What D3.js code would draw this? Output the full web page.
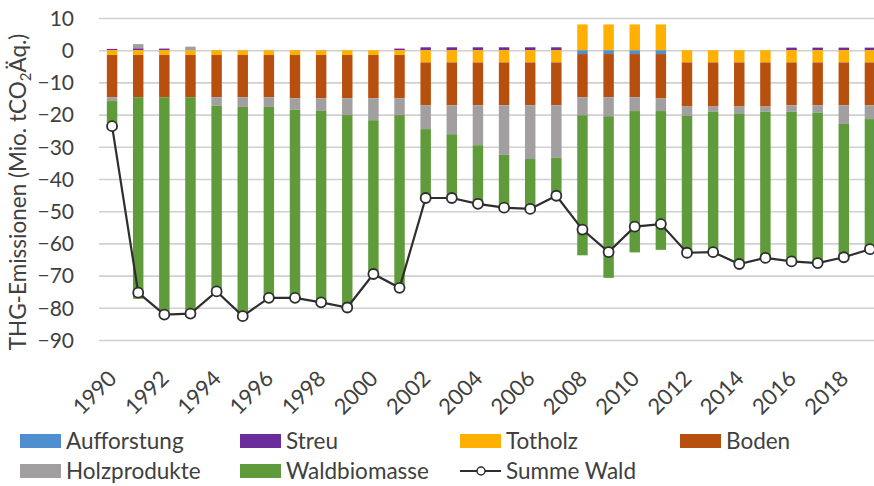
<!DOCTYPE html>
<html>
<head>
<meta charset="utf-8">
<script src="https://cdn.jsdelivr.net/npm/d3@7"></script>
<style>
  html, body { margin: 0; padding: 0; background: #fff; }
  svg { display: block; font-family: Lato, "Open Sans", sans-serif; }
</style>
</head>
<body>
<svg id="chart" width="874" height="486"></svg>
<script>
const years = d3.range(1990, 2020);
const yTicks = [10, 0, -10, -20, -30, -40, -50, -60, -70, -80, -90];
const xTickLabels = years.filter(y => y % 2 === 0);

const aufforstung = [0,0,0,0,0,0,0,0,0,0,0,0,0,0,0,0,0,0,-1.2,-1.2,-1.2,-1.2,0,0,0,0,0,0,0,0];
const streu = [0.4,0.6,0.5,0,0,0,0,0,0,0,0,0.5,0.9,0.9,0.9,0.9,0.9,0.9,0,0,0,0,0,0,0,0,0.8,0.8,0.8,0.8];
const totholz = [-1.5,-1.5,-1.5,-1.5,-1.5,-1.5,-1.5,-1.5,-1.5,-1.5,-1.5,-1.5,-3.8,-3.8,-3.8,-3.8,-3.8,-3.8,8.0,8.0,8.0,8.0,-3.8,-3.8,-3.8,-3.8,-3.8,-3.8,-3.8,-3.8];
const boden = [-13.1,-13.1,-13.1,-13.1,-13.1,-13.1,-13.1,-13.45,-13.45,-13.45,-13.45,-13.45,-13.3,-13.3,-13.3,-13.3,-13.3,-13.3,-13.4,-13.4,-13.4,-13.8,-13.7,-13.7,-13.7,-13.7,-13.3,-13.3,-13.3,-13.3];
const holzprodukte = [-1.2,1.3,0,1.1,-2.6,-3.0,-3.0,-3.5,-3.9,-5.2,-6.8,-5.2,-7.4,-9.0,-12.4,-15.4,-16.7,-16.3,-5.6,-5.9,-4.3,-3.9,-2.9,-1.6,-2.3,-1.6,-2.0,-2.3,-5.8,-4.3];
const waldbiomasse = [-8.2,-62.6,-68.0,-68.3,-57.7,-65.0,-59.3,-58.4,-59.4,-59.7,-47.7,-54.1,-22.3,-20.7,-19.1,-17.3,-16.4,-12.7,-43.5,-50.2,-43.9,-43.1,-42.5,-43.6,-46.6,-45.4,-47.3,-47.5,-42.2,-41.2];
const summeWald = [-23.6,-75.3,-82.1,-81.8,-74.9,-82.6,-76.9,-76.9,-78.3,-79.9,-69.5,-73.8,-45.9,-45.9,-47.7,-48.9,-49.3,-45.2,-55.7,-62.7,-54.8,-54.0,-62.9,-62.7,-66.4,-64.5,-65.6,-66.1,-64.3,-61.8];

const seriesNames = ["Aufforstung", "Streu", "Totholz", "Boden", "Holzprodukte", "Waldbiomasse"];
const seriesValues = [aufforstung, streu, totholz, boden, holzprodukte, waldbiomasse];
const colors = ["#4f8fd0", "#6a2d9b", "#ffb000", "#b7500f", "#a19fa0", "#5f9b3b"];

const rows = years.map((yr, i) => {
  const r = { year: yr };
  seriesNames.forEach((n, k) => r[n] = seriesValues[k][i]);
  return r;
});

const svg = d3.select("#chart");
const textColor = "#404040";
const fontSize = 21;
const legendFontSize = 22.5;

const x = d3.scaleBand().domain(years).range([99, 883]).paddingInner(0.6).paddingOuter(0.3);
const y = d3.scaleLinear().domain([-90, 10]).range([340, 18]);

// gridlines
svg.append("g")
  .attr("transform", "translate(99,0)")
  .call(d3.axisLeft(y).tickValues(yTicks).tickSize(-(874 - 99)).tickFormat(""))
  .call(g => g.select(".domain").remove())
  .call(g => g.selectAll("line").attr("stroke", "#d0d0d0").attr("stroke-width", 1.6));

// y tick labels
svg.append("g")
  .attr("transform", "translate(74,0)")
  .call(d3.axisLeft(y).tickValues(yTicks).tickSize(0).tickPadding(0).tickFormat(d3.format("d")))
  .call(g => g.select(".domain").remove())
  .call(g => g.selectAll("text")
    .attr("fill", textColor).attr("font-size", fontSize).attr("font-family", "Lato, sans-serif")
    .attr("dy", "0.35em"));

// stacked bars
const stack = d3.stack().keys(seriesNames).offset(d3.stackOffsetDiverging).order(d3.stackOrderNone);
const stacked = stack(rows);

svg.append("g").selectAll("g")
  .data(stacked)
  .join("g")
  .attr("fill", (d, i) => colors[i])
  .selectAll("rect")
  .data(d => d)
  .join("rect")
  .attr("x", d => x(d.data.year))
  .attr("width", x.bandwidth())
  .attr("y", d => y(Math.max(d[0], d[1])))
  .attr("height", d => Math.abs(y(d[0]) - y(d[1])));

// Summe Wald line
const line = d3.line()
  .x((d, i) => x(years[i]) + x.bandwidth() / 2)
  .y(d => y(d));

svg.append("path")
  .datum(summeWald)
  .attr("fill", "none")
  .attr("stroke", "#2e2e2e")
  .attr("stroke-width", 2.2)
  .attr("d", line);

svg.append("g").selectAll("circle")
  .data(summeWald)
  .join("circle")
  .attr("cx", (d, i) => x(years[i]) + x.bandwidth() / 2)
  .attr("cy", d => y(d))
  .attr("r", 5)
  .attr("fill", "#fff")
  .attr("stroke", "#2e2e2e")
  .attr("stroke-width", 1.8);

// x axis labels
svg.append("g")
  .attr("transform", "translate(0,340)")
  .call(d3.axisBottom(x).tickValues(xTickLabels).tickSize(0).tickPadding(0))
  .call(g => g.select(".domain").remove())
  .call(g => g.selectAll("text")
    .attr("fill", textColor).attr("font-size", fontSize + 1).attr("font-family", "Lato, sans-serif")
    .attr("text-anchor", "end")
    .attr("dy", null)
    .attr("y", null)
    .attr("transform", "translate(6,40) rotate(-45)"));

// y axis title
const title = svg.append("text")
  .attr("transform", "translate(26,192) rotate(-90)")
  .attr("text-anchor", "middle")
  .attr("fill", textColor)
  .attr("font-size", 22.5)
  .attr("font-family", "Lato, sans-serif");
title.append("tspan").text("THG-Emissionen (Mio. tCO");
title.append("tspan").text("2").attr("font-size", 15).attr("dy", 5);
title.append("tspan").text("Äq.)").attr("dy", -5);

// legend
const legendItems = [
  { name: "Aufforstung", type: "rect", color: colors[0], x: 20, y: 441 },
  { name: "Streu", type: "rect", color: colors[1], x: 240, y: 441 },
  { name: "Totholz", type: "rect", color: colors[2], x: 460, y: 441 },
  { name: "Boden", type: "rect", color: colors[3], x: 680, y: 441 },
  { name: "Holzprodukte", type: "rect", color: colors[4], x: 20, y: 471 },
  { name: "Waldbiomasse", type: "rect", color: colors[5], x: 240, y: 471 },
  { name: "Summe Wald", type: "line", color: "#2e2e2e", x: 460, y: 471 }
];
const lg = svg.append("g").selectAll("g").data(legendItems).join("g")
  .attr("transform", d => `translate(${d.x},${d.y})`);
lg.filter(d => d.type === "rect").append("rect")
  .attr("x", 0).attr("y", -7).attr("width", 41).attr("height", 14)
  .attr("fill", d => d.color);
lg.filter(d => d.type === "line").append("line")
  .attr("x1", 0).attr("x2", 41).attr("y1", 0).attr("y2", 0)
  .attr("stroke", "#2e2e2e").attr("stroke-width", 2);
lg.filter(d => d.type === "line").append("circle")
  .attr("cx", 21).attr("cy", 0).attr("r", 4)
  .attr("fill", "#fff").attr("stroke", "#2e2e2e").attr("stroke-width", 1.5);
lg.append("text")
  .attr("x", 46).attr("y", 0).attr("dy", "0.36em")
  .attr("fill", textColor).attr("font-size", legendFontSize).attr("font-family", "Lato, sans-serif")
  .text(d => d.name);
</script>
</body>
</html>
